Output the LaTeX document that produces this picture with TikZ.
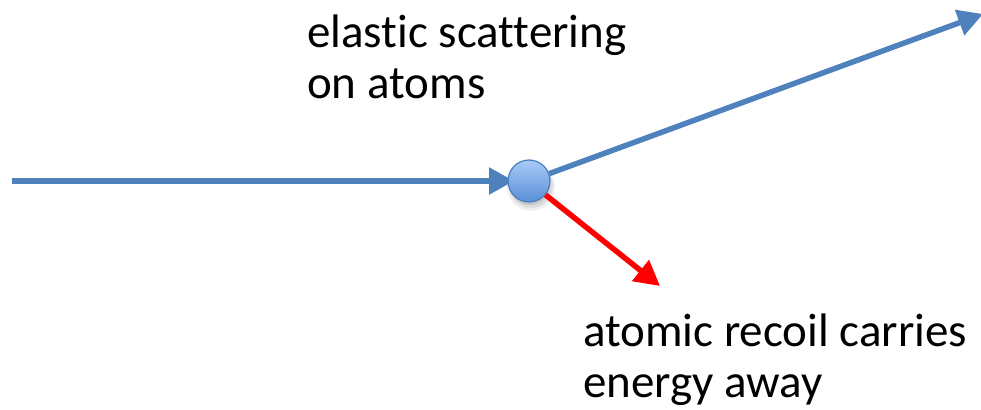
\documentclass[tikz,border=0pt]{standalone}
\usepackage{fontspec}
\setmainfont{Carlito}[Ligatures={NoCommon,NoContextual}]
\usetikzlibrary{arrows.meta,shadings}
\definecolor{obl}{HTML}{4F81BD}
\definecolor{circtop}{HTML}{A8CBF7}
\definecolor{circbot}{HTML}{5A8FD8}
\definecolor{circedge}{HTML}{4A7EBB}
\tikzset{
  lbl/.style={anchor=base west, align=left, inner sep=0pt, font=\fontsize{47}{51}\selectfont},
  ray/.style={line width=5.5pt, -{Triangle[length=25pt,width=26pt]}},
  atom/.style={circle, minimum size=42pt, inner sep=0pt, draw=circedge, line width=1.2pt, top color=circtop, bottom color=circbot},
}
\begin{document}
\begin{tikzpicture}[x=1pt,y=-1pt]
\useasboundingbox (0,0) rectangle (981,409);
% shadow
\fill[black,opacity=0.06] (531,187) circle (24pt);
\fill[black,opacity=0.08] (531,186) circle (22pt);
\fill[black,opacity=0.10] (530,185) circle (20pt);
\coordinate (s) at (12,181);
\coordinate (t1) at (983,14);
\coordinate (t2) at (660,286);
\coordinate (c) at (529,181);
\draw[ray, obl] (s) -- (514,181);
\node[atom] (a) at (c) {};
\draw[ray, obl] (a.20) -- (t1);
\draw[ray, red] (a.-40) -- (t2);
\node[lbl] (l1) at (307,99) {elastic scattering\\on atoms};
\node[lbl] (l2) at (583,397) {atomic recoil carries\\energy away};
\end{tikzpicture}
\end{document}
